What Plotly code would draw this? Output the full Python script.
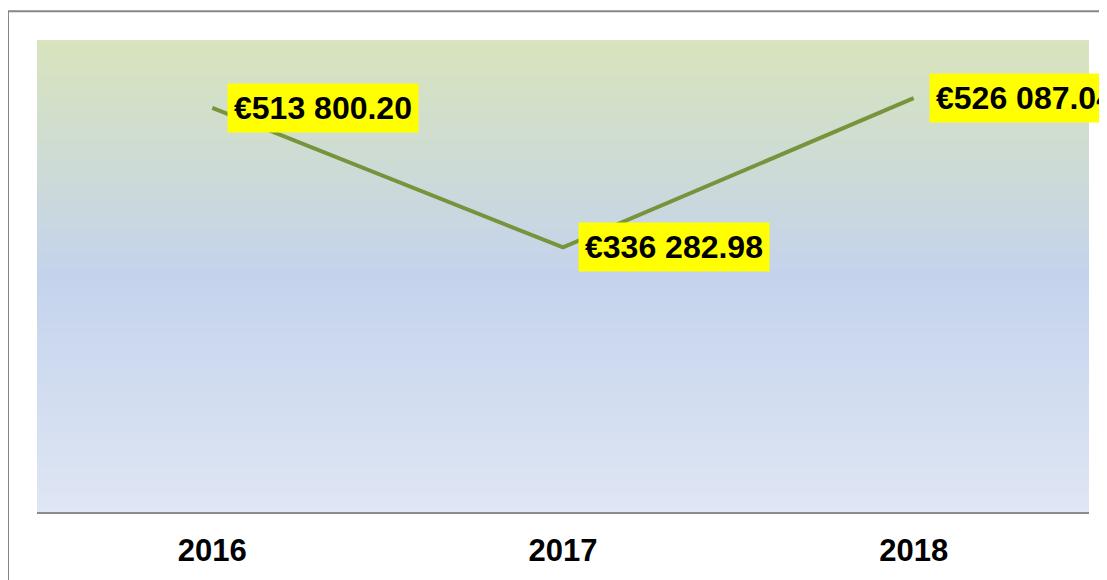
import plotly.graph_objects as go

years = ["2016", "2017", "2018"]
values = [513800.20, 336282.98, 526087.04]

def fmt_eur(v):
    s = f"{v:,.2f}".replace(",", " ")
    return "€" + s

labels = [fmt_eur(v) for v in values]

FONT = "Liberation Sans, Arial, sans-serif"
OFF = 8  # page body margin
W, H = 1107 - OFF, 580 - OFF
L, T = 37 - OFF, 40 - OFF
R = W - (1089 - OFF)
B = H - (515 - OFF)
PW, PH = W - L - R, H - T - B

fig = go.Figure()
fig.add_trace(go.Scatter(
    x=years, y=values, mode="lines",
    line=dict(color="#77933c", width=4),
    hoverinfo="skip", showlegend=False,
))

# gradient background (stacked thin bands)
stops = [(0.0, (216, 228, 189)), (0.5, (196, 211, 236)), (1.0, (223, 230, 244))]
def col_at(t):
    for (t0, c0), (t1, c1) in zip(stops[:-1], stops[1:]):
        if t0 <= t <= t1:
            f = (t - t0) / (t1 - t0)
            return tuple(round(a + (b - a) * f) for a, b in zip(c0, c1))
    return stops[-1][1]

shapes = []
N = 95
for i in range(N):
    t = (i + 0.5) / N  # from top
    c = col_at(t)
    shapes.append(dict(
        type="rect", xref="paper", yref="paper", layer="below",
        x0=0, x1=1, y0=max(0, 1 - (i + 1) / N - 0.006), y1=1 - i / N,
        fillcolor=f"rgb{c}", line=dict(width=0),
    ))
# outer border
shapes.append(dict(
    type="rect", xref="paper", yref="paper", layer="above",
    x0=(8 - 37) / PW, x1=(1107 + 40 - 37) / PW,
    y0=-(120) / PH, y1=1 + (40 - 11) / PH,
    line=dict(color="#868686", width=2), fillcolor="rgba(0,0,0,0)",
))

annotations = []
for i, (v, t) in enumerate(zip(values, labels)):
    annotations.append(dict(
        x=i, y=v, xref="x", yref="y", text=t, showarrow=False,
        xanchor="left", yanchor="middle", xshift=15,
        bgcolor="#ffff00", borderpad=6,
        font=dict(family=FONT, size=32, color="black", weight="bold"),
    ))

fig.update_layout(
    width=W, height=H,
    margin=dict(l=L, r=R, t=T, b=B),
    paper_bgcolor="white", plot_bgcolor="rgba(0,0,0,0)",
    shapes=shapes, annotations=annotations,
    xaxis=dict(
        type="category", range=[-0.5, 2.5],
        showgrid=False, zeroline=False,
        showline=True, linecolor="#8c8c8c", linewidth=2,
        ticks="outside", ticklen=10, tickcolor="rgba(0,0,0,0)",
        tickfont=dict(family=FONT, size=31, color="black", weight="bold"),
    ),
    yaxis=dict(
        range=[0, 600000], showgrid=False, zeroline=False,
        showticklabels=False, showline=False,
    ),
)

fig.write_html("out.html")
